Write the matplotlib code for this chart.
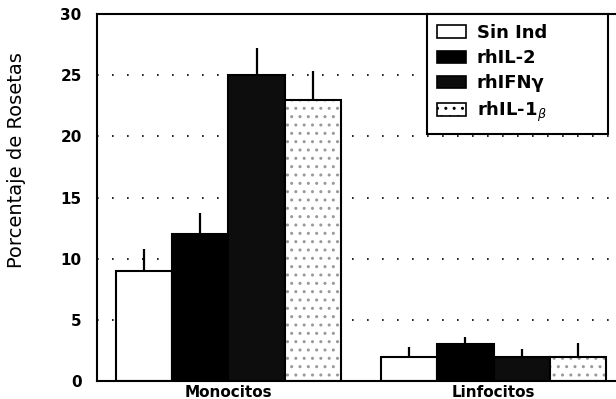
import matplotlib
matplotlib.use("Agg")
import matplotlib.pyplot as plt
from matplotlib.patches import Patch
import numpy as np

categories = ["Monocitos", "Linfocitos"]
series = ["Sin Ind", "rhIL-2", "rhIFN\u03b3", r"rhIL-1$_\beta$"]
values = {
    "Sin Ind": [9.0, 2.0],
    "rhIL-2": [12.0, 3.0],
    "rhIFNg": [25.0, 2.0],
    "rhIL-1b": [23.0, 2.0],
}
errors = {
    "Sin Ind": [1.8, 0.8],
    "rhIL-2": [1.7, 0.6],
    "rhIFNg": [2.2, 0.6],
    "rhIL-1b": [2.3, 1.1],
}
yticks = [0, 5, 10, 15, 20, 25, 30]

keys = ["Sin Ind", "rhIL-2", "rhIFNg", "rhIL-1b"]
faces = ["white", "black", "#0d0d0d", "white"]
hatches = [None, None, None, ".."]

fig = plt.figure(figsize=(6.16, 3.99), dpi=100)
ax = fig.add_axes([97/616, 1-381/399, 1-97/616+0.01, (381-14)/399])

x = np.arange(len(categories))
w = 0.212
offsets = np.array([-1.5, -0.5, 0.5, 1.5]) * w

for i, k in enumerate(keys):
    xs = x + offsets[i]
    if hatches[i]:
        ax.bar(xs, values[k], w, color="white", edgecolor="#999999",
               hatch=hatches[i], linewidth=0, zorder=2)
        ax.bar(xs, values[k], w, fill=False, edgecolor="black",
               linewidth=1.5, zorder=3)
    else:
        ax.bar(xs, values[k], w, color=faces[i], edgecolor="black",
               linewidth=1.5, zorder=2)
    ax.errorbar(xs, values[k], yerr=[np.zeros(len(xs)), errors[k]],
                fmt="none", ecolor="black", elinewidth=1.6, capsize=0, zorder=4)

ax.set_xlim(-0.496, 1.485)
ax.set_ylim(0, 30)
ax.set_yticks(yticks)
ax.set_yticklabels([str(t) for t in yticks], fontsize=11, fontweight="bold")
ax.set_xticks(x)
ax.set_xticklabels(categories, fontsize=11, fontweight="bold")
ax.tick_params(axis="y", length=0, pad=11)
ax.tick_params(axis="x", length=0, pad=3)
ax.yaxis.grid(True, linestyle=(0, (1, 8)), color="black", linewidth=1.2, zorder=0)
ax.set_axisbelow(True)
for s in ["left", "top", "bottom"]:
    ax.spines[s].set_linewidth(1.5)
ax.spines["right"].set_visible(False)

ax.set_ylabel("Porcentaje de Rosetas", fontsize=14)
ax.yaxis.set_label_coords(-0.135, 0.602)

handles = []
for i, k in enumerate(keys):
    if hatches[i]:
        handles.append(Patch(facecolor="white", edgecolor="#777777", hatch="..", linewidth=1.2))
    else:
        handles.append(Patch(facecolor=faces[i], edgecolor="black", linewidth=1.2))
leg = ax.legend(handles, series, loc="upper left",
                bbox_to_anchor=((423-97)/519, (381-136)/367, (602-423)/519, (136-14)/367),
                mode="expand", borderaxespad=0, fancybox=False, framealpha=1,
                edgecolor="black", prop={"size": 13, "weight": "bold"},
                handlelength=1.6, handleheight=0.7, labelspacing=0.4,
                handletextpad=0.6, borderpad=0.55)
leg.get_frame().set_linewidth(1.5)
for h in leg.legend_handles:
    h.set_edgecolor("black")

fig.savefig("out.png", dpi=100)
